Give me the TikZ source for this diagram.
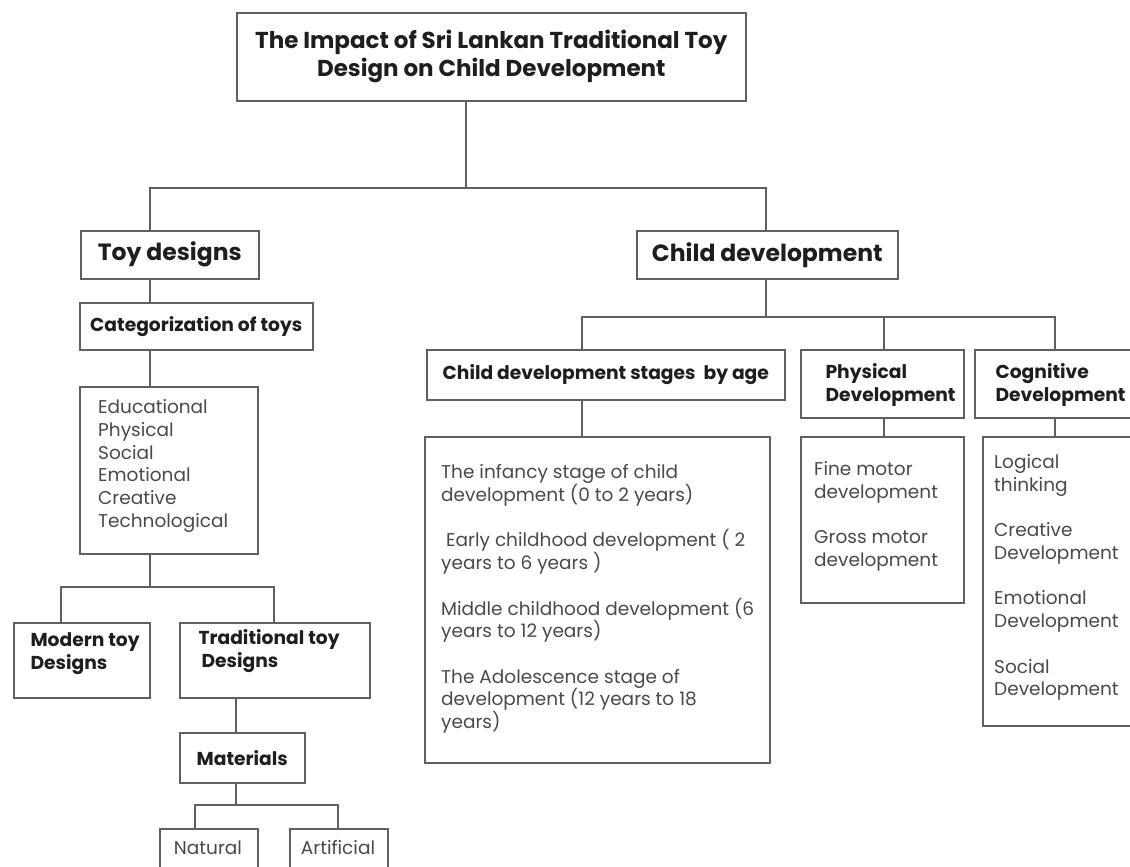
\documentclass[tikz,border=0pt]{standalone}
\usepackage{fontspec}
\setmainfont{Poppins}
\definecolor{linec}{HTML}{606060}
\definecolor{boldc}{HTML}{1E1E1E}
\definecolor{regc}{HTML}{4A4A4A}
\begin{document}
\begin{tikzpicture}[x=1pt,y=-1pt,
  box/.style={draw=linec, line width=1.6pt, fill=white, inner sep=0pt, anchor=north west},
  conn/.style={draw=linec, line width=1.6pt},
  bigtxt/.style={font=\bfseries\fontsize{23}{28}\selectfont, text=boldc, align=center},
  lvone/.style={font=\bfseries\fontsize{23.5}{27}\selectfont, text=boldc},
  hd/.style={font=\bfseries\fontsize{18.7}{23}\selectfont, text=boldc, align=left},
  reg/.style={font=\fontsize{18.5}{22.7}\selectfont, text=regc, align=left, inner sep=0pt}
]
\useasboundingbox (0,0) rectangle (1130,867);
\clip (0,0) rectangle (1130,867);
\fill[white] (0,0) rectangle (1130,867);

% ---- boxes ----
\node[box, minimum width=509pt, minimum height=88pt, bigtxt] (title) at (236,12)
  {The Impact of Sri Lankan Traditional Toy\\Design on Child Development};
\node[box, minimum width=178pt, minimum height=48pt, lvone] (toy) at (80,230) {Toy designs};
\node[box, minimum width=261pt, minimum height=48pt, lvone] (cd) at (636,230) {Child development};
\node[box, minimum width=233pt, minimum height=47pt, hd] (cat) at (79,302) {Categorization of toys};
\node[box, minimum width=178pt, minimum height=167pt] (list) at (79,386) {};
\node[box, minimum width=136pt, minimum height=75pt] (modern) at (13,622) {};
\node[box, minimum width=190pt, minimum height=75pt] (trad) at (179,622) {};
\node[box, minimum width=125pt, minimum height=50pt, hd] (mat) at (179,732) {Materials};
\node[box, minimum width=98pt, minimum height=70pt, reg] (nat) at (159,828) {};
\node[box, minimum width=98pt, minimum height=70pt, reg] (art) at (289,828) {};

\node[box, minimum width=358pt, minimum height=50pt, hd] (stg) at (426,349) {Child development stages \ by age};
\node[box, minimum width=163pt, minimum height=68pt] (phy) at (800,349) {};
\node[box, minimum width=170pt, minimum height=68pt] (cog) at (974,349) {};
\node[box, minimum width=345pt, minimum height=326pt] (stglist) at (424,436) {};
\node[box, minimum width=163pt, minimum height=166pt] (phylist) at (800,436) {};
\node[box, minimum width=170pt, minimum height=289pt] (coglist) at (982,436) {};

% ---- texts ----
\node[reg, anchor=base] (nattxt) at (208,854) {Natural};
\node[reg, anchor=base] (arttxt) at (338,854) {Artificial};
\node[hd, anchor=west] (modtxt) at (27,653.5) {Modern toy\\Designs};
\node[hd, anchor=west] (tradtxt) at (195,651) {Traditional toy\\\hspace{3pt}Designs};
\node[hd, anchor=west] (phytxt) at (822,384.5) {Physical\\Development};
\node[hd, anchor=west] (cogtxt) at (992,384.5) {Cognitive\\Development};
\node[reg, anchor=north west] (listtxt) at (98,399.5)
  {Educational\\Physical\\Social\\Emotional\\Creative\\Technological};
\node[reg, anchor=north west] (stgtxt) at (441,464.5)
  {The infancy stage of child\\development (0 to 2 years)\\[22.7pt]
   \hspace{5pt}Early childhood development ( 2\\years to 6 years )\\[22.7pt]
   Middle childhood development (6\\years to 12 years)\\[22.7pt]
   The Adolescence stage of\\development (12 years to 18\\years)};
\node[reg, anchor=north west] (phytxt2) at (814,461.5)
  {Fine motor\\development\\[22.7pt]Gross motor\\development};
\node[reg, anchor=north west] (cogtxt2) at (994,454.5)
  {Logical\\thinking\\[22.7pt]Creative\\Development\\[22.7pt]Emotional\\Development\\[22.7pt]Social\\Development};

% ---- connectors ----
\coordinate (j0) at (466,188);
\coordinate (a1) at (150,188);
\coordinate (a2) at (766,188);
\draw[conn] (title.south -| j0) -- (j0);
\draw[conn] (toy.north -| a1) -- (a1) -- (a2) -- (cd.north -| a2);
\draw[conn] (toy.south -| a1) -- (cat.north -| a1);
\draw[conn] (cat.south -| a1) -- (list.north -| a1);
\coordinate (c0) at (150,587);
\coordinate (c1) at (61,587);
\coordinate (c2) at (274,587);
\draw[conn] (list.south -| c0) -- (c0);
\draw[conn] (modern.north -| c1) -- (c1) -- (c2) -- (trad.north -| c2);
\coordinate (d0) at (236,805);
\coordinate (d1) at (195,805);
\coordinate (d2) at (338,805);
\draw[conn] (trad.south -| d0) -- (mat.north -| d0);
\draw[conn] (mat.south -| d0) -- (d0);
\draw[conn] (nat.north -| d1) -- (d1) -- (d2) -- (art.north -| d2);
\coordinate (e0) at (766,317);
\coordinate (e1) at (582,317);
\coordinate (e2) at (884,317);
\coordinate (e3) at (1055,317);
\draw[conn] (cd.south -| e0) -- (e0);
\draw[conn] (stg.north -| e1) -- (e1) -- (e3) -- (cog.north -| e3);
\draw[conn] (phy.north -| e2) -- (e2);
\draw[conn] (stg.south -| e1) -- (stglist.north -| e1);
\draw[conn] (phy.south -| e2) -- (phylist.north -| e2);
\draw[conn] (cog.south -| e3) -- (coglist.north -| e3);
\end{tikzpicture}
\end{document}
